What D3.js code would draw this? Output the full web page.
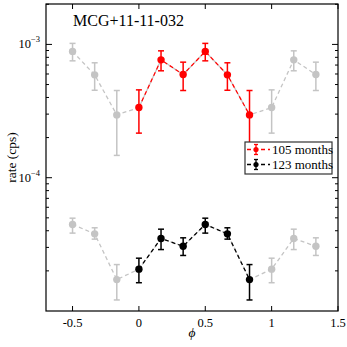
<!DOCTYPE html>
<html>
<head>
<meta charset="utf-8">
<script src="https://cdn.jsdelivr.net/npm/d3@7"></script>
<style>
  body { margin: 0; background: #fff; }
  text { font-family: "Liberation Serif", "DejaVu Serif", serif; }
</style>
</head>
<body>
<div id="chart"></div>
<script>
// phase bins (one cycle) and rates for the two light curves
const phases = [0, 1 / 6, 2 / 6, 3 / 6, 4 / 6, 5 / 6];
const rate105 = [3.36e-4, 7.66e-4, 5.94e-4, 8.86e-4, 5.91e-4, 2.96e-4];
const hi105 = [4.56e-4, 8.95e-4, 7.36e-4, 1.018e-3, 7.28e-4, 4.51e-4];
const lo105 = [2.16e-4, 6.34e-4, 4.51e-4, 7.53e-4, 4.53e-4, 1.47e-4];
const rate123 = [2.06e-5, 3.50e-5, 3.06e-5, 4.46e-5, 3.79e-5, 1.72e-5];
const hi123 = [2.49e-5, 4.11e-5, 3.54e-5, 4.97e-5, 4.21e-5, 2.23e-5];
const lo123 = [1.63e-5, 2.89e-5, 2.61e-5, 3.84e-5, 3.46e-5, 1.21e-5];
const xTicks = [-0.5, 0, 0.5, 1, 1.5];
const xTickLabels = ["-0.5", "0", "0.5", "1", "1.5"];
const yTicks = [1e-4, 1e-3];
const yTickExp = ["−4", "−3"];
const seriesNames = ["105 months", "123 months"];
const seriesColors = ["#ff0000", "#000000"];
const greyColor = "#c4c4c4";

const config = {
  width: 292,
  height: 307,
  margin: { top: 4, left: 46 },
};

const svg = d3.select("#chart").append("svg")
  .attr("width", 347)
  .attr("height", 347);

const g = svg.append("g")
  .attr("transform", `translate(${config.margin.left},${config.margin.top})`);

const x = d3.scaleLinear().domain([-0.7, 1.5]).range([0, config.width]);
const y = d3.scaleLog().domain([1e-5, 2.01e-3]).range([config.height, 0]);

function buildSeries(rate, hi, lo) {
  const pts = phases.map((p, i) => ({ p, v: rate[i], hi: hi[i], lo: lo[i] }));
  // extended cycle shown in grey: last half before, first half after
  const before = pts.slice(3).map(d => ({ ...d, p: d.p - 1 }));
  const after = pts.slice(0, 3).map(d => ({ ...d, p: d.p + 1 }));
  return { main: pts, ext: before.concat(pts, after), greyPts: before.concat(after) };
}

const series = [
  buildSeries(rate105, hi105, lo105),
  buildSeries(rate123, hi123, lo123),
];

const line = d3.line().x(d => x(d.p)).y(d => y(d.v));

function drawPoints(sel, pts, color) {
  const grp = sel.append("g");
  const eb = grp.selectAll("g.eb").data(pts).join("g").attr("class", "eb");
  eb.append("line")
    .attr("x1", d => x(d.p)).attr("x2", d => x(d.p))
    .attr("y1", d => y(d.hi)).attr("y2", d => y(d.lo))
    .attr("stroke", color).attr("stroke-width", 1.5);
  [d => d.hi, d => d.lo].forEach(f => {
    eb.append("line")
      .attr("x1", d => x(d.p) - 3).attr("x2", d => x(d.p) + 3)
      .attr("y1", d => y(f(d))).attr("y2", d => y(f(d)))
      .attr("stroke", color).attr("stroke-width", 1.5);
  });
  grp.selectAll("circle").data(pts).join("circle")
    .attr("cx", d => x(d.p)).attr("cy", d => y(d.v))
    .attr("r", 3.7).attr("fill", color);
}

series.forEach((s, i) => {
  g.append("path").datum(s.ext)
    .attr("d", line).attr("fill", "none")
    .attr("stroke", greyColor).attr("stroke-width", 1.3)
    .attr("stroke-dasharray", "4,3");
  drawPoints(g, s.greyPts, greyColor);
  g.append("path").datum(s.main)
    .attr("d", line).attr("fill", "none")
    .attr("stroke", seriesColors[i]).attr("stroke-width", 1.3)
    .attr("stroke-dasharray", "4,3");
  drawPoints(g, s.main, seriesColors[i]);
});

// frame
g.append("rect")
  .attr("width", config.width).attr("height", config.height)
  .attr("fill", "none").attr("stroke", "#000").attr("stroke-width", 1.2);

// x ticks (bottom and top, inward)
xTicks.forEach((t, i) => {
  g.append("line").attr("x1", x(t)).attr("x2", x(t))
    .attr("y1", config.height).attr("y2", config.height - 5)
    .attr("stroke", "#000").attr("stroke-width", 1);
  g.append("line").attr("x1", x(t)).attr("x2", x(t))
    .attr("y1", 0).attr("y2", 5)
    .attr("stroke", "#000").attr("stroke-width", 1);
  g.append("text")
    .attr("x", x(t)).attr("y", config.height + 16)
    .attr("text-anchor", "middle")
    .style("font-size", "12.5px")
    .text(xTickLabels[i]);
});

// y ticks (major + minor, left and right, inward)
const yMinor = [];
[1e-5, 1e-4, 1e-3].forEach(dec => {
  for (let k = 2; k <= 9; k++) {
    const v = dec * k;
    if (v <= y.domain()[1]) yMinor.push(v);
  }
});
yMinor.forEach(v => {
  [[0, 3], [config.width, config.width - 3]].forEach(([a, b]) => {
    g.append("line").attr("x1", a).attr("x2", b)
      .attr("y1", y(v)).attr("y2", y(v))
      .attr("stroke", "#000").attr("stroke-width", 1);
  });
});
yTicks.forEach((v, i) => {
  [[0, 6], [config.width, config.width - 6]].forEach(([a, b]) => {
    g.append("line").attr("x1", a).attr("x2", b)
      .attr("y1", y(v)).attr("y2", y(v))
      .attr("stroke", "#000").attr("stroke-width", 1);
  });
  const t = g.append("text")
    .attr("x", -6).attr("y", y(v) + 4)
    .attr("text-anchor", "end")
    .style("font-size", "12.5px");
  t.append("tspan").text("10");
  t.append("tspan").attr("dy", -6).style("font-size", "8.5px").text(yTickExp[i]);
});

// axis labels
svg.append("text")
  .attr("transform", `translate(16,${config.margin.top + config.height / 2}) rotate(-90)`)
  .attr("text-anchor", "middle")
  .style("font-size", "13.5px")
  .text("rate (cps)");

svg.append("text")
  .attr("x", config.margin.left + config.width / 2).attr("y", 337)
  .attr("text-anchor", "middle")
  .style("font-size", "13.5px").style("font-style", "italic")
  .text("ϕ");

// title
svg.append("text")
  .attr("x", 73).attr("y", 26)
  .style("font-size", "16px")
  .text("MCG+11-11-032");

// legend
const leg = svg.append("g").attr("transform", "translate(245,142)");
leg.append("rect")
  .attr("width", 87).attr("height", 32)
  .attr("fill", "#fff").attr("stroke", "#333").attr("stroke-width", 1.2);
seriesNames.forEach((name, i) => {
  const cy = 7.5 + i * 15;
  const c = seriesColors[i];
  leg.append("line").attr("x1", 2).attr("x2", 25)
    .attr("y1", cy).attr("y2", cy)
    .attr("stroke", c).attr("stroke-width", 1.3).attr("stroke-dasharray", "4,3");
  leg.append("line").attr("x1", 11).attr("x2", 11)
    .attr("y1", cy - 5).attr("y2", cy + 5)
    .attr("stroke", c).attr("stroke-width", 1.3);
  [cy - 5, cy + 5].forEach(yy => {
    leg.append("line").attr("x1", 9).attr("x2", 13)
      .attr("y1", yy).attr("y2", yy)
      .attr("stroke", c).attr("stroke-width", 1.3);
  });
  leg.append("circle").attr("cx", 11).attr("cy", cy).attr("r", 2.6).attr("fill", c);
  leg.append("text")
    .attr("x", 27).attr("y", cy + 4.5)
    .style("font-size", "13px")
    .text(name);
});
</script>
</body>
</html>
